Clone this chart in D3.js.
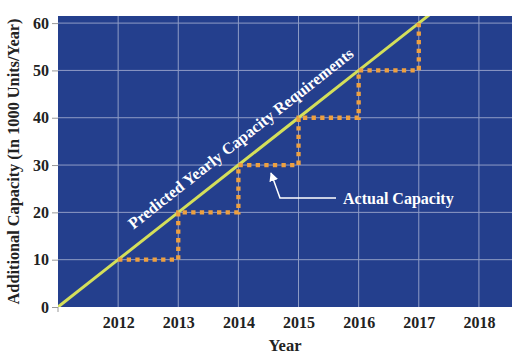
<!DOCTYPE html>
<html>
<head>
<meta charset="utf-8">
<script src="https://cdn.jsdelivr.net/npm/d3@7"></script>
<style>
  body { margin: 0; background: #fff; }
  text { font-family: "Liberation Serif", "Times New Roman", serif; font-weight: bold; }
</style>
</head>
<body>
<div id="chart"></div>
<script>
// tick labels
const yearTicks = [2012, 2013, 2014, 2015, 2016, 2017, 2018];
const capacityTicks = [0, 10, 20, 30, 40, 50, 60];

// predicted yearly requirement (straight line, clipped to plot)
const predictedYears = [2011, 2012, 2013, 2014, 2015, 2016, 2017, 2018];
const predictedValues = [0, 10, 20, 30, 40, 50, 60, 70];

// actual capacity steps
const actualYears = [2012, 2013, 2014, 2015, 2016, 2017];
const actualValues = [10, 20, 30, 40, 50, 60];

const W = 527, H = 363;
const pLeft = 58, pRight = 512, pTop = 16, pBottom = 307;

const svg = d3.select("#chart").append("svg")
  .attr("width", W)
  .attr("height", H);

const x = d3.scaleLinear().domain([2011, 2018.55]).range([pLeft, pRight]);
const y = d3.scaleLinear().domain([0, 61.5]).range([pBottom, pTop]);

const defs = svg.append("defs");
defs.append("clipPath").attr("id", "plot")
  .append("rect")
  .attr("x", pLeft).attr("y", pTop)
  .attr("width", pRight - pLeft).attr("height", pBottom - pTop);

// plot background
svg.append("rect")
  .attr("x", pLeft).attr("y", pTop)
  .attr("width", pRight - pLeft).attr("height", pBottom - pTop)
  .attr("fill", "#243f8d");

// grid
svg.append("g").selectAll("line")
  .data(capacityTicks.filter(d => d > 0))
  .join("line")
  .attr("x1", pLeft).attr("x2", pRight)
  .attr("y1", d => y(d)).attr("y2", d => y(d))
  .attr("stroke", "#8f9cc6").attr("stroke-width", 1);

svg.append("g").selectAll("line")
  .data(yearTicks)
  .join("line")
  .attr("x1", d => x(d)).attr("x2", d => x(d))
  .attr("y1", pTop).attr("y2", pBottom)
  .attr("stroke", "#8f9cc6").attr("stroke-width", 1);

// y axis
const yAxis = svg.append("g")
  .attr("transform", `translate(${pLeft},0)`)
  .call(d3.axisLeft(y).tickValues(capacityTicks).tickSize(6).tickPadding(3));
yAxis.select(".domain").remove();
yAxis.selectAll(".tick line").attr("stroke", "#999");
yAxis.selectAll("text").attr("font-size", 16).attr("fill", "#222")
  .attr("font-family", "Liberation Serif").attr("font-weight", "bold");

// x axis (labels only, one tick at origin)
const xAxis = svg.append("g")
  .attr("transform", `translate(0,${pBottom})`)
  .call(d3.axisBottom(x).tickValues(yearTicks).tickFormat(d3.format("d")).tickSize(0).tickPadding(10));
xAxis.select(".domain").remove();
xAxis.selectAll("text").attr("font-size", 16).attr("fill", "#222")
  .attr("font-family", "Liberation Serif").attr("font-weight", "bold");
svg.append("line")
  .attr("x1", x(2011)).attr("x2", x(2011))
  .attr("y1", pBottom).attr("y2", pBottom + 5)
  .attr("stroke", "#999");

// axis titles
svg.append("text")
  .attr("x", x((2011 + 2018.55) / 2)).attr("y", 351)
  .attr("text-anchor", "middle")
  .attr("font-size", 16.5).attr("fill", "#222")
  .text("Year");

svg.append("text")
  .attr("transform", `translate(19,${(pTop + pBottom) / 2}) rotate(-90)`)
  .attr("text-anchor", "middle")
  .attr("font-size", 16.3).attr("fill", "#222")
  .text("Additional Capacity (In 1000 Units/Year)");

const plot = svg.append("g").attr("clip-path", "url(#plot)");

// predicted line
const predLine = d3.line().x(d => x(d[0])).y(d => y(d[1]));
plot.append("path")
  .attr("d", predLine(predictedYears.map((d, i) => [d, predictedValues[i]])))
  .attr("fill", "none")
  .attr("stroke", "#d4df5a")
  .attr("stroke-width", 3);

// actual capacity steps
const stepLine = d3.line().x(d => x(d[0])).y(d => y(d[1])).curve(d3.curveStepAfter);
plot.append("path")
  .attr("d", stepLine(actualYears.map((d, i) => [d, actualValues[i]])))
  .attr("fill", "none")
  .attr("stroke", "#eea040")
  .attr("stroke-width", 4.3)
  .attr("stroke-dasharray", "4.3,4.3");

// label along predicted line
const angle = Math.atan2(y(0) - y(10), x(2012) - x(2011)) * 180 / Math.PI;
svg.append("text")
  .attr("transform", `translate(${x(2012.4)},${y(14)}) rotate(${-angle})`)
  .attr("x", 0).attr("y", -14)
  .attr("text-anchor", "start")
  .attr("font-size", 16.2).attr("fill", "#fff")
  .text("Predicted Yearly Capacity Requirements");

// actual capacity annotation
defs.append("marker")
  .attr("id", "arrow")
  .attr("viewBox", "0 0 10 10")
  .attr("refX", 9).attr("refY", 5)
  .attr("markerWidth", 9).attr("markerHeight", 9)
  .attr("markerUnits", "userSpaceOnUse")
  .attr("orient", "auto")
  .append("path").attr("d", "M0,0L10,5L0,10z").attr("fill", "#fff");

svg.append("path")
  .attr("d", `M336,198L280,198L271,173`)
  .attr("fill", "none")
  .attr("stroke", "#fff")
  .attr("stroke-width", 1.5)
  .attr("marker-end", "url(#arrow)");

svg.append("text")
  .attr("x", 343).attr("y", 204)
  .attr("font-size", 16).attr("fill", "#fff")
  .text("Actual Capacity");
</script>
</body>
</html>
